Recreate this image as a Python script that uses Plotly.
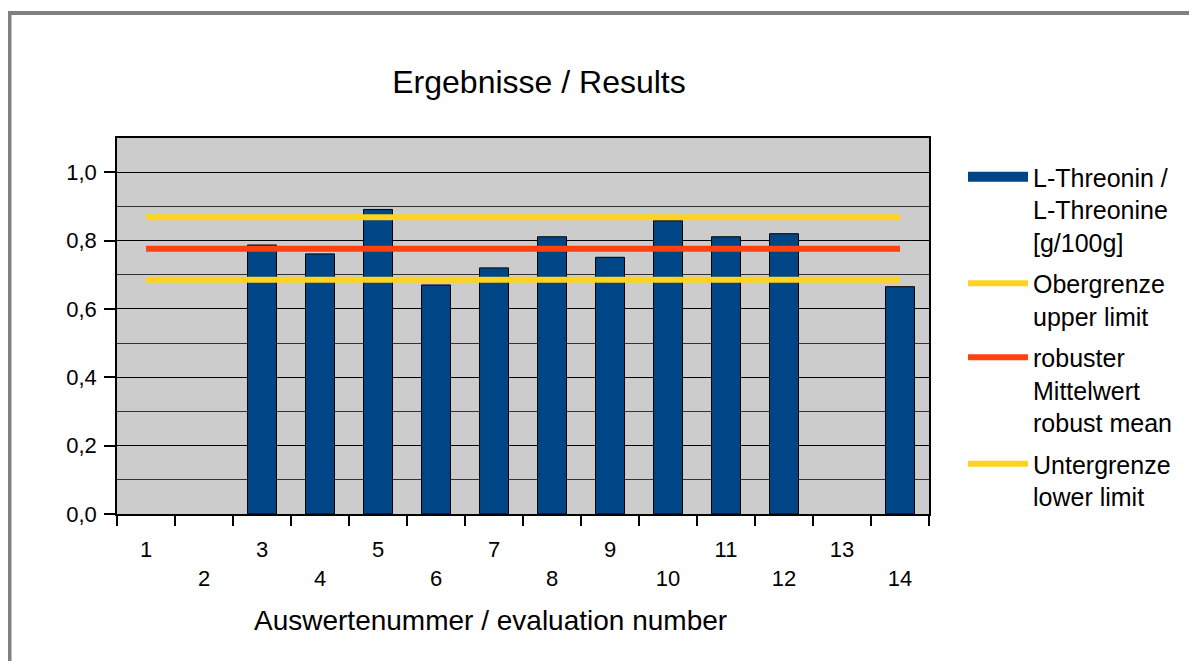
import plotly.graph_objects as go

categories = [str(i) for i in range(1, 15)]
tick_labels = ["1", "<br>2", "3", "<br>4", "5", "<br>6", "7", "<br>8", "9", "<br>10", "11", "<br>12", "13", "<br>14"]
threonin = [None, None, 0.787, 0.761, 0.891, 0.670, 0.720, 0.811, 0.751, 0.858, 0.811, 0.820, None, 0.665]
upper_limit = [0.868, 0.868, 0.868, 0.868, 0.868, 0.868, 0.868, 0.868, 0.868, 0.868, 0.868, 0.868, 0.868, 0.868]
robust_mean = [0.776, 0.776, 0.776, 0.776, 0.776, 0.776, 0.776, 0.776, 0.776, 0.776, 0.776, 0.776, 0.776, 0.776]
lower_limit = [0.685, 0.685, 0.685, 0.685, 0.685, 0.685, 0.685, 0.685, 0.685, 0.685, 0.685, 0.685, 0.685, 0.685]

W, H = 1197, 661
# plot area in figure pixel coordinates (page is offset by the 8px body margin)
L, R, T, B = 109, 921, 130, 506
pw, ph = R - L, B - T

def px(x):
    return (x - L) / pw

def py(y):
    return (B - y) / ph

FONT = "Liberation Sans, Arial, sans-serif"
BAR_NAME = "L-Threonin /<br>L-Threonine<br>[g/100g]"

fig = go.Figure()
fig.add_trace(go.Bar(
    x=categories, y=threonin, name=BAR_NAME, legendgroup="a", showlegend=False,
    marker=dict(color="#004586", line=dict(color="#000000", width=1)), width=0.5,
))
# legend entry for the bars drawn as a wide block, like the reference legend key
fig.add_trace(go.Scatter(x=[None], y=[None], mode="lines", name=BAR_NAME, legendgroup="a",
                         line=dict(color="#004586", width=15), hoverinfo="skip"))
fig.add_trace(go.Scatter(x=categories, y=upper_limit, mode="lines", name="Obergrenze<br>upper limit",
                         legendgroup="b", line=dict(color="#ffd320", width=6)))
fig.add_trace(go.Scatter(x=categories, y=robust_mean, mode="lines", name="robuster<br>Mittelwert<br>robust mean",
                         legendgroup="c", line=dict(color="#ff420e", width=6)))
fig.add_trace(go.Scatter(x=categories, y=lower_limit, mode="lines", name="Untergrenze<br>lower limit",
                         legendgroup="d", line=dict(color="#ffd320", width=6)))

fig.update_layout(
    width=W, height=H,
    margin=dict(l=L, r=W - R, t=T, b=H - B, autoexpand=False),
    paper_bgcolor="white", plot_bgcolor="#cccccc",
    separators=",.",
    font=dict(family=FONT, color="#000000"),
    title=dict(text="Ergebnisse / Results", x=531 / W, xanchor="center", xref="container",
               y=1 - 74 / H, yanchor="middle", yref="container", font=dict(size=32, family=FONT)),
    showlegend=True,
    legend=dict(x=px(955), xanchor="left", y=py(146), yanchor="top", font=dict(size=25, family=FONT),
                valign="top", itemwidth=60, bgcolor="rgba(0,0,0,0)", tracegroupgap=6),
    bargap=0.5,
)
fig.update_xaxes(
    type="category", categoryorder="array", categoryarray=categories,
    tickvals=categories, ticktext=tick_labels, tickson="boundaries",
    ticks="outside", ticklen=10, tickcolor="#000000", tickwidth=1.5,
    tickfont=dict(size=22, family=FONT), ticklabelstandoff=15,
    showline=True, linecolor="#000000", linewidth=1.5, mirror=True,
    showgrid=False, zeroline=False, range=[-0.5, 13.5],
)
fig.update_yaxes(
    range=[0, 1.1], tickvals=[0, 0.2, 0.4, 0.6, 0.8, 1.0], tickformat=".1f",
    ticks="outside", ticklen=11, tickcolor="#000000", tickwidth=1.5,
    tickfont=dict(size=22, family=FONT), ticklabelstandoff=3,
    showline=True, linecolor="#000000", linewidth=1.5, mirror=True,
    showgrid=True, gridcolor="#000000", gridwidth=1,
    minor=dict(dtick=0.1, tick0=0, showgrid=True, gridcolor="#333333", gridwidth=1, ticks=""),
    zeroline=False,
)
fig.add_annotation(text="Auswertenummer / evaluation number", xref="paper", yref="paper",
                   x=px(482.5), y=py(612), xanchor="center", yanchor="middle", showarrow=False,
                   font=dict(size=28, family=FONT))
fig.add_shape(type="rect", xref="paper", yref="paper", x0=px(1.5), x1=px(1220), y0=py(5), y1=py(690),
              line=dict(color="#808080", width=4), fillcolor="rgba(0,0,0,0)", layer="below")

fig.write_html("out.html")
